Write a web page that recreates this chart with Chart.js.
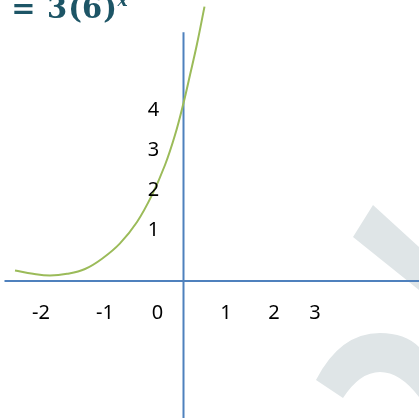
<!DOCTYPE html>
<html>
<head>
<meta charset="utf-8">
<style>
  html, body { margin: 0; padding: 0; background: #fff; }
  #wrap { width: 419px; height: 418px; }
</style>
<script src="https://cdn.jsdelivr.net/npm/chart.js@4/dist/chart.umd.min.js"></script>
</head>
<body>
<div id="wrap"><canvas id="chart"></canvas></div>
<script>
// sketched curve, in axis units (origin where the two blue axes cross)
const curveX = [-3.37, -3.01, -2.67, -2.33, -1.97, -1.61, -1.27, -0.93, -0.63, -0.37, -0.17, 0, 0.13, 0.27, 0.42];
const curveY = [0.26, 0.18, 0.14, 0.18, 0.3, 0.575, 0.94, 1.475, 2.15, 2.9, 3.65, 4.45, 5.15, 5.925, 6.86];

// the two axis lines (ends)
const xAxisEnds = [-3.58, 4.71];
const yAxisEnds = [6.22, -3.43];

// hand placed tick labels
const xTickLabels = ["-2", "-1", "0", "1", "2", "3"];
const xTickAt = [-2.85, -1.57, -0.52, 0.85, 1.81, 2.63];
const xTickRow = -0.78;
const yTickLabels = ["1", "2", "3", "4"];
const yTickAt = [1.29, 2.31, 3.3, 4.3];
const yTickCol = -0.6;

const AXIS_BLUE = "#4f81bd";
const CURVE_GREEN = "#9bbb59";

// faint logo in the background, bottom right
const watermarkPlugin = {
  id: "watermark",
  beforeDatasetsDraw(chart) {
    const { ctx } = chart;
    ctx.save();
    ctx.fillStyle = "#dfe5e7";
    ctx.beginPath();
    ctx.moveTo(373, 205);
    ctx.lineTo(419, 247);
    ctx.lineTo(419, 290);
    ctx.lineTo(353, 237);
    ctx.closePath();
    ctx.fill();

    ctx.beginPath();
    ctx.moveTo(316, 380);
    ctx.quadraticCurveTo(340, 333, 380, 333);
    ctx.quadraticCurveTo(405, 333, 419, 347);
    ctx.lineTo(419, 397);
    ctx.quadraticCurveTo(400, 372, 380, 372);
    ctx.quadraticCurveTo(360, 372, 343, 398);
    ctx.closePath();
    ctx.fill();
    ctx.restore();
  },
};

const labelsPlugin = {
  id: "sketchLabels",
  afterDatasetsDraw(chart) {
    const { ctx, scales } = chart;
    ctx.save();
    ctx.fillStyle = "#000";
    ctx.font = "20px 'Noto Sans'";
    ctx.textAlign = "center";
    ctx.textBaseline = "alphabetic";
    xTickLabels.forEach((t, i) => {
      ctx.fillText(t, scales.x.getPixelForValue(xTickAt[i]), scales.y.getPixelForValue(xTickRow) + 7);
    });
    yTickLabels.forEach((t, i) => {
      ctx.fillText(t, scales.x.getPixelForValue(yTickCol), scales.y.getPixelForValue(yTickAt[i]) + 7);
    });

    // formula, cut off at the top edge
    ctx.fillStyle = "#1d5566";
    ctx.font = "bold 29px 'DejaVu Serif'";
    [["=", 23.5], ["3", 57], ["(", 75], ["6", 92], [")", 110]].forEach(([t, x]) => {
      ctx.fillText(t, x, 18);
    });
    ctx.font = "italic bold 17px 'DejaVu Serif'";
    ctx.fillText("x", 122.5, 5.5);
    ctx.restore();
  },
};

const ctx = document.getElementById("chart").getContext("2d");

new Chart(ctx, {
  type: "line",
  data: {
    datasets: [
      {
        label: "curve",
        data: curveX.map((x, i) => ({ x, y: curveY[i] })),
        borderColor: CURVE_GREEN,
        borderWidth: 2,
        pointRadius: 0,
        tension: 0.4,
      },
      {
        label: "x axis",
        data: xAxisEnds.map((x) => ({ x, y: 0 })),
        borderColor: AXIS_BLUE,
        borderWidth: 2,
        pointRadius: 0,
      },
      {
        label: "y axis",
        data: yAxisEnds.map((y) => ({ x: 0, y })),
        borderColor: AXIS_BLUE,
        borderWidth: 2,
        pointRadius: 0,
      },
    ],
  },
  options: {
    responsive: true,
    maintainAspectRatio: false,
    animation: false,
    events: [],
    layout: { padding: 0 },
    scales: {
      x: { type: "linear", min: -3.67, max: 4.71, display: false },
      y: { type: "linear", min: -3.425, max: 7.025, display: false },
    },
    plugins: {
      legend: { display: false },
      tooltip: { enabled: false },
    },
  },
  plugins: [watermarkPlugin, labelsPlugin],
});
</script>
</body>
</html>
